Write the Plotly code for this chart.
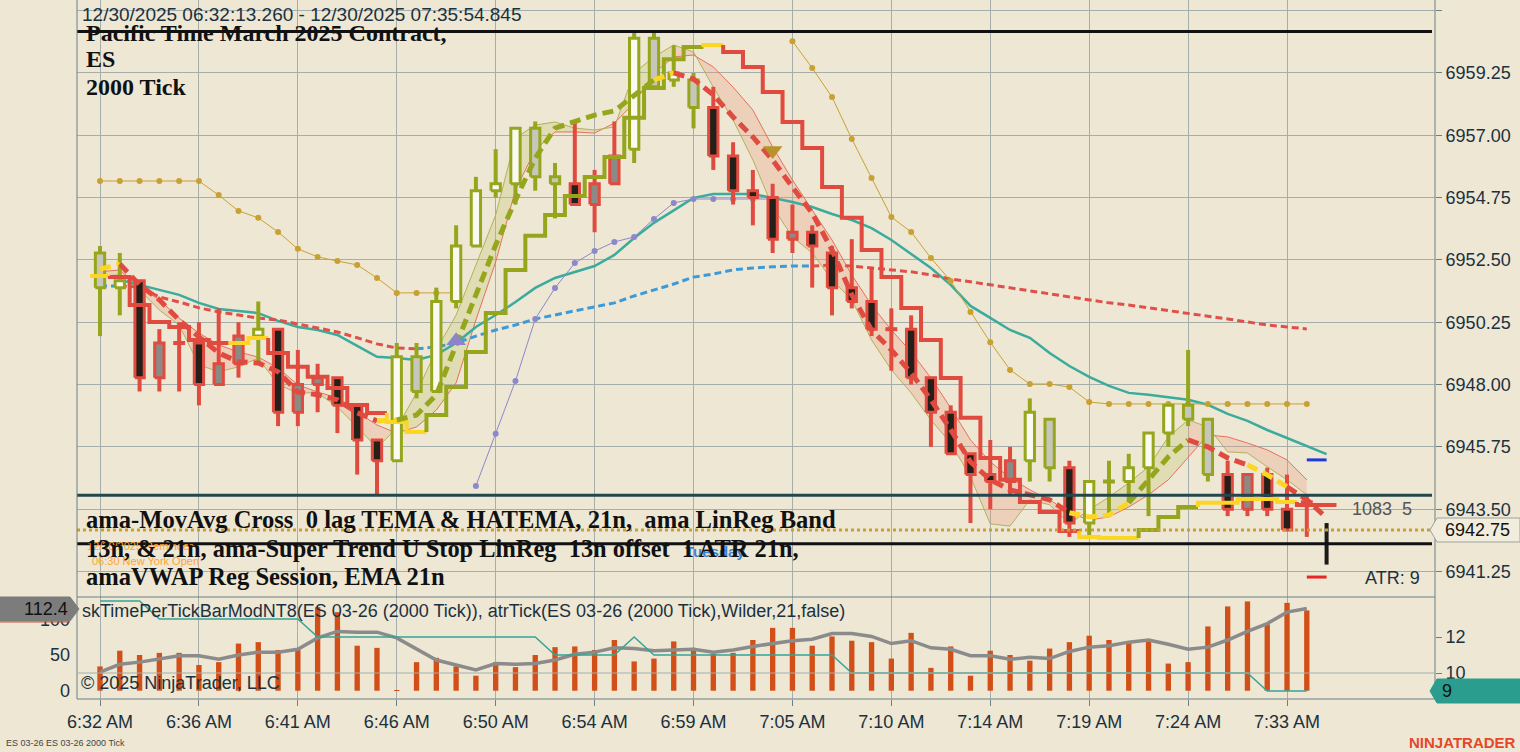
import plotly.graph_objects as go

# ------------------------------------------------------------------ data
time_tick_index = [0, 5, 10, 15, 20, 25, 30, 35, 40, 45, 50, 55, 60]
time_tick_labels = ["6:32 AM", "6:36 AM", "6:41 AM", "6:46 AM", "6:50 AM", "6:54 AM", "6:59 AM",
                    "7:05 AM", "7:10 AM", "7:14 AM", "7:19 AM", "7:24 AM", "7:33 AM"]
price_ticks = [6941.25, 6943.50, 6945.75, 6948.00, 6950.25, 6952.50, 6954.75, 6957.00, 6959.25, 6961.50]
price_tick_labels = ["6941.25", "6943.50", "6945.75", "6948.00", "6950.25", "6952.50", "6954.75",
                     "6957.00", "6959.25", ""]

opens = [6952.75, 6951.50, 6951.75, 6948.25, 6949.50, 6949.50, 6948.00, 6948.75, 6949.75, 6950.00,
         6947.00, 6948.00, 6948.25, 6947.25, 6946.00, 6945.25, 6949.00, 6947.75, 6951.00, 6953.00,
         6955.00, 6955.25, 6957.25, 6955.50, 6955.25, 6954.50, 6955.25, 6956.50, 6960.50, 6959.00,
         6959.00, 6958.00, 6956.25, 6955.00, 6954.75, 6953.25, 6953.50, 6952.75, 6951.50, 6951.00,
         6950.00, 6950.00, 6948.25, 6947.00, 6945.50, 6944.75, 6944.50, 6945.25, 6946.75, 6945.00,
         6943.00, 6944.50, 6944.50, 6945.00, 6946.25, 6947.25, 6946.75, 6944.75, 6943.50, 6944.75,
         6943.50, 6943.75, 6943.00]
highs = [6953.00, 6952.75, 6951.75, 6950.00, 6950.25, 6950.25, 6950.75, 6950.25, 6951.00, 6950.00,
         6949.25, 6948.75, 6948.25, 6947.25, 6946.00, 6949.50, 6949.50, 6951.50, 6953.75, 6955.50,
         6956.50, 6957.25, 6957.50, 6956.00, 6957.50, 6955.75, 6957.50, 6960.75, 6960.75, 6960.25,
         6959.25, 6958.75, 6956.75, 6955.75, 6955.25, 6954.50, 6953.75, 6953.00, 6953.25, 6952.25,
         6950.75, 6950.50, 6948.25, 6947.25, 6945.50, 6946.00, 6945.75, 6947.50, 6946.75, 6945.25,
         6944.50, 6945.25, 6945.50, 6946.25, 6947.25, 6949.25, 6946.75, 6945.25, 6944.75, 6945.00,
         6944.75, 6944.00, 6943.00]
lows = [6949.75, 6950.50, 6947.75, 6947.75, 6947.75, 6947.25, 6948.00, 6948.25, 6948.75, 6946.50,
        6946.50, 6947.00, 6946.25, 6944.75, 6944.00, 6945.25, 6947.50, 6947.75, 6950.75, 6953.00,
        6954.75, 6954.50, 6955.00, 6954.00, 6954.50, 6953.50, 6955.25, 6956.00, 6958.75, 6958.75,
        6957.25, 6955.75, 6954.50, 6953.75, 6952.75, 6952.75, 6951.50, 6950.50, 6950.75, 6949.75,
        6948.50, 6948.00, 6945.75, 6945.50, 6943.00, 6943.50, 6944.00, 6944.50, 6944.50, 6942.50,
        6942.50, 6943.25, 6943.75, 6943.25, 6945.75, 6946.50, 6944.50, 6943.25, 6943.25, 6943.25,
        6942.75, 6942.50, 6941.50]
closes = [6951.50, 6951.75, 6948.25, 6949.50, 6949.50, 6948.00, 6948.75, 6949.75, 6950.00, 6947.00,
          6948.00, 6948.25, 6947.25, 6946.00, 6945.25, 6949.00, 6947.75, 6951.00, 6953.00, 6955.00,
          6955.25, 6957.25, 6955.50, 6955.25, 6954.50, 6955.25, 6956.25, 6960.50, 6958.75, 6959.25,
          6958.00, 6956.25, 6955.00, 6954.75, 6953.25, 6953.50, 6953.00, 6951.50, 6951.00, 6950.00,
          6950.00, 6948.25, 6947.00, 6945.50, 6944.75, 6944.50, 6945.25, 6947.00, 6945.00, 6943.00,
          6944.50, 6944.50, 6945.00, 6946.25, 6947.25, 6946.75, 6944.75, 6943.50, 6944.75, 6943.50,
          6942.75, 6943.75, 6942.75]
# bar colouring trend: U = up (green), D = down (red), N = live bar
bar_trend = ("UU" + "DDDDDD" + "U" + "DDDDDD" + "UUUUUUUUU" + "DDD" + "UUUU"
             + "DDDDDDDDDDDDDDDD" + "UU" + "D" + "UUUUUUU" + "DDDDD" + "N")

ema21 = [None, 6951.78, 6951.60, 6951.42, 6951.24, 6950.95, 6950.73, 6950.66, 6950.58, 6950.30,
         6950.08, 6949.97, 6949.79, 6949.40, 6949.00, 6948.96, 6948.89, 6949.07, 6949.50, 6950.08,
         6950.51, 6950.98, 6951.49, 6951.85, 6952.07, 6952.28, 6952.68, 6953.29, 6953.84, 6954.30,
         6954.74, 6954.88, 6954.88, 6954.88, 6954.74, 6954.59, 6954.41, 6954.16, 6953.94, 6953.65,
         6953.22, 6952.72, 6952.21, 6951.60, 6950.84, 6950.41, 6949.97, 6949.69, 6949.14, 6948.67,
         6948.28, 6947.95, 6947.70, 6947.63, 6947.55, 6947.45, 6947.27, 6946.94, 6946.69, 6946.36,
         6946.07, 6945.78, 6945.49]

vwap = [6951.56, 6951.56, 6951.52, 6951.16, 6950.98, 6950.77, 6950.62, 6950.51, 6950.40, 6950.33,
        6950.19, 6950.04, 6949.90, 6949.69, 6949.47, 6949.32, 6949.29, 6949.36, 6949.50, 6949.75,
        6949.97, 6950.15, 6950.37, 6950.51, 6950.66, 6950.80, 6950.95, 6951.20, 6951.42, 6951.63,
        6951.88, 6951.99, 6952.14, 6952.21, 6952.25, 6952.28, 6952.28, 6952.32, 6952.28, 6952.21,
        6952.14, 6952.07, 6951.96, 6951.81, 6951.71, 6951.60, 6951.49, 6951.38, 6951.27, 6951.16,
        6951.06, 6950.95, 6950.87, 6950.77, 6950.69, 6950.58, 6950.48, 6950.37, 6950.26, 6950.15,
        6950.08, 6950.01]
vwap_state = "B" + "R" * 15 + "B" * 20 + "R" * 25   # per segment: B above, R below

tema = [6952.17, 6952.35, 6951.60, 6951.06, 6950.33, 6949.72, 6949.14, 6948.82, 6948.78, 6948.46,
        6947.73, 6947.63, 6947.45, 6946.98, 6946.69, 6946.72, 6946.90, 6947.63, 6949.43, 6951.24,
        6953.04, 6954.66, 6956.18, 6957.26, 6957.48, 6957.73, 6957.88, 6958.46, 6959.00, 6959.25,
        6959.03, 6958.46, 6957.66, 6956.94, 6956.11, 6955.13, 6954.19, 6952.86, 6951.24, 6949.97,
        6949.25, 6948.42, 6947.45, 6946.37, 6945.21, 6944.56, 6944.20, 6944.02, 6943.84, 6943.37,
        6943.22, 6943.29, 6943.73, 6944.56, 6945.39, 6946.00, 6945.75, 6945.35, 6945.10, 6944.74,
        6944.31, 6943.84, 6943.19]
tema_state = ("Y" + "R" * 13 + "Y" + "G" * 13 + "Y" + "R" * 20 + "YYY" + "GGG" + "RRR" + "YY" + "RR")

band_upper_line = [6952.07, 6952.14, 6951.52, 6951.06, 6950.40, 6949.86, 6949.43, 6949.18, 6948.99, 6948.60,
                   6947.99, 6947.73, 6947.52, 6947.01, 6946.54, 6946.25, 6946.47, 6947.08, 6948.06, 6950.33,
                   6952.43, 6955.03, 6956.47, 6957.12, 6957.12, 6957.08, 6957.44, 6958.17, 6959.25, 6959.83,
                   6959.90, 6959.47, 6958.74, 6957.91, 6956.58, 6955.39, 6954.30, 6953.22, 6951.96, 6950.87,
                   6949.97, 6949.18, 6948.24, 6947.16, 6946.00, 6945.21, 6944.63, 6944.20, 6943.84, 6943.37,
                   6943.11, 6943.22, 6943.58, 6944.02, 6944.56, 6945.39, 6946.18, 6946.11, 6945.89, 6945.64,
                   6945.28, 6944.56]
band_lower_line = [6951.92, 6951.96, 6951.42, 6950.69, 6950.15, 6948.71, 6948.46, 6948.64, 6948.96, 6947.99,
                   6947.70, 6947.70, 6947.19, 6946.47, 6945.71, 6946.43, 6947.70, 6949.25, 6950.51, 6952.32,
                   6954.12, 6956.90, 6957.37, 6957.48, 6957.26, 6957.19, 6957.30, 6959.25, 6959.83, 6960.26,
                   6960.01, 6958.74, 6957.55, 6956.11, 6954.41, 6953.33, 6952.75, 6951.78, 6951.06, 6949.61,
                   6948.53, 6947.70, 6946.72, 6945.89, 6944.67, 6942.97, 6942.89, 6943.84, 6943.66, 6942.97,
                   6943.48, 6943.94, 6944.45, 6945.03, 6946.11, 6946.72, 6946.47, 6945.57, 6945.53, 6945.03,
                   6944.56, 6944.02]
band_state = "D" * 15 + "U" * 14 + "D" * 20 + "U" * 6 + "D" * 6

stop_line = [6951.92, 6951.88, 6950.87, 6950.26, 6950.08, 6949.61, 6949.50, 6949.50, 6949.68, 6949.14,
             6948.64, 6948.28, 6947.88, 6947.26, 6946.97, 6946.65, 6946.29, 6946.90, 6947.91, 6949.18,
             6950.58, 6952.14, 6953.37, 6954.12, 6954.81, 6955.49, 6956.22, 6957.63, 6958.71, 6959.75,
             6960.19, 6960.26, 6960.01, 6959.47, 6958.56, 6957.48, 6956.54, 6955.13, 6954.02, 6952.86,
             6951.88, 6950.76, 6949.61, 6948.24, 6946.80, 6945.35, 6944.56, 6943.76, 6943.40, 6942.71,
             6942.50, 6942.46, 6942.46, 6942.75, 6943.22, 6943.58, 6943.73, 6943.73, 6943.87, 6943.87,
             6943.76, 6943.65, 6943.65]
stop_state = ("Y" + "R" * 6 + "YY" + "R" * 6 + "YY" + "G" * 14 + "Y" + "R" * 18 + "YYY" + "GGG"
              + "YYYYY" + "RR")

trail_gold = [6955.35, 6955.35, 6955.35, 6955.35, 6955.35, 6955.35, 6954.84, 6954.27, 6954.02, 6953.51,
              6952.90, 6952.61, 6952.46, 6952.32, 6951.85, 6951.31, 6951.31, 6951.31, 6951.31, None,
              None, None, None, None, None, None, None, None, None, None,
              None, None, None, None, None, 6960.40, 6959.43, 6958.38, 6956.87, 6955.46,
              6954.05, 6953.51, 6952.57, 6951.74, 6950.62, 6949.53, 6948.53, 6948.02, 6948.02, 6947.91,
              6947.37, 6947.30, 6947.30, 6947.30, 6947.30, 6947.30, 6947.30, 6947.30, 6947.30, 6947.30,
              6947.30, 6947.30, None]
trail_purple = [None, None, None, None, None, None, None, None, None, None,
                None, None, None, None, None, None, None, None, None, 6944.34,
                6946.22, 6948.13, 6950.37, 6951.49, 6952.39, 6952.82, 6953.15, 6953.33, 6953.98, 6954.56,
                6954.70, 6954.70, 6954.70, 6954.70, 6954.70, None, None, None, None, None,
                None, None, None, None, None, None, None, None, None, None,
                None, None, None, None, None, None, None, None, None, None,
                None, None, None]

signal_up_index, signal_up_price = [18], [6949.58]
signal_dn_index, signal_dn_price = [34], [6956.45]
session_high = 6960.75
session_low_line = 6942.25
pivot_line = 6944.00
last_price = 6942.75
proj_upper = 6945.28
proj_lower = 6941.05

time_per_tick = [34, 56, 50, 53, 53, 36, 40, 66, 68, 57, 57, 117, 110, 63, 60, 1, 40, 46, 34, 21,
                 40, 33, 50, 61, 62, 57, 71, 41, 45, 69, 60, 52, 53, 71, 88, 88, 63, 76, 70, 68,
                 45, 81, 32, 62, 21, 56, 50, 42, 59, 68, 77, 71, 68, 69, 38, 40, 90, 118, 125, 93,
                 123, 112.4]
time_per_tick_avg = [26, 37, 40, 44, 49, 49, 44, 50, 54, 54, 58, 74, 83, 82, 82, 74, 59, 43, 36, 29,
                     38, 37, 38, 43, 51, 54, 60, 59, 56, 57, 58, 54, 57, 62, 66, 70, 72, 80, 80, 76,
                     66, 70, 60, 58, 49, 49, 44, 47, 45, 55, 61, 63, 68, 71, 65, 58, 61, 71, 83, 94,
                     110, 115]
atr_ticks = [14, 14, 14, 13, 13, 13, 13, 13, 13, 13, 13, 12, 12, 12, 12, 12, 12, 12, 12, 12,
             12, 12, 12, 11, 11, 11, 11, 12, 11, 11, 11, 11, 11, 11, 11, 11, 11, 11, 10, 10,
             10, 10, 10, 10, 10, 10, 10, 10, 10, 10, 10, 10, 10, 10, 10, 10, 10, 10, 10, 9,
             9, 9]

assert len(bar_trend) == 63 and len(tema_state) == 62 and len(vwap_state) == 61
assert len(band_state) == 61 and len(stop_state) == 63

# ------------------------------------------------------------------ style
BG = "#ede7d4"
GRID = "#a6aeac"
AXIS = "#6d7e86"
TXT = "#1c3140"
SANS = "Liberation Sans"
SERIF = "Liberation Serif"
GREEN = "#95a61d"
RED = "#e04a3f"
YELLOW = "#fdd523"
TEAL = "#3aab9c"
W, H = 1520, 752
ML, MR, MT, MB = 77, 85, 0, 53
PW, PH = W - ML - MR, H - MT - MB
SPLIT = 102 / PH


def px(xp):
    return (xp - ML) / PW


def py(yp):
    return (H - MB - yp) / PH


def seg_runs(states):
    runs, start = [], 0
    for k in range(1, len(states) + 1):
        if k == len(states) or states[k] != states[start]:
            runs.append((states[start], start, k - 1))
            start = k
    return runs


idx = list(range(len(opens)))
fig = go.Figure()


def line(x, y, color, width, dash=None, yaxis="y", **kw):
    fig.add_trace(go.Scatter(x=x, y=y, mode="lines", yaxis=yaxis, hoverinfo="skip",
                             line=dict(color=color, width=width, dash=dash), **kw))


# band fills
band_fill = {"D": "rgba(233,150,120,0.28)", "U": "rgba(196,196,110,0.32)"}
for s, a, b in seg_runs(band_state):
    xs = idx[a:b + 2]
    line(xs, band_upper_line[a:b + 2], "rgba(0,0,0,0)", 0)
    line(xs, band_lower_line[a:b + 2], "rgba(0,0,0,0)", 0, fill="tonexty", fillcolor=band_fill[s])
line(idx[:62], band_upper_line, "#e8705e", 1)
line(idx[:62], band_lower_line, "#b4b05c", 1)

# EMA 21
line(idx, ema21, TEAL, 2.5)

# VWAP dashed
vcol = {"B": "#3d9ad8", "R": "#e0504a"}
for s, a, b in seg_runs(vwap_state):
    line(idx[a:b + 2], vwap[a:b + 2], vcol[s], 3, dash="7px,4px")

# trailing dotted lines
fig.add_trace(go.Scatter(x=idx, y=trail_gold, mode="lines+markers", hoverinfo="skip",
                         line=dict(color="#c9a133", width=1), marker=dict(color="#c9a133", size=6)))
fig.add_trace(go.Scatter(x=idx, y=trail_purple, mode="lines+markers", hoverinfo="skip",
                         line=dict(color="#8c88cc", width=1), marker=dict(color="#8c88cc", size=6)))

# candles: wicks
wick_col = {"U": GREEN, "D": RED, "N": "#1a1a1a"}
for t in "UDN":
    xs, ys = [], []
    for i in idx:
        if bar_trend[i] != t:
            continue
        xs += [i, i, None]
        ys += [lows[i], highs[i], None]
        if opens[i] == closes[i] and t != "N":
            xs += [i - 0.3, i + 0.3, None]
            ys += [opens[i], opens[i], None]
    line(xs, ys, wick_col[t], 4)

# candles: bodies
BW = 0.47
groups = {("U", True): ("#fbfaf0", GREEN), ("U", False): ("#c7c6bb", GREEN),
          ("D", True): ("#8b8a85", RED), ("D", False): ("#241f18", RED)}
for (t, up), (fc, lc) in groups.items():
    xs, ys = [], []
    for i in idx:
        if bar_trend[i] != t or opens[i] == closes[i]:
            continue
        if (closes[i] > opens[i]) != up:
            continue
        lo, hi = min(opens[i], closes[i]), max(opens[i], closes[i])
        xs += [i - BW / 2, i + BW / 2, i + BW / 2, i - BW / 2, i - BW / 2, None]
        ys += [lo, lo, hi, hi, lo, None]
    fig.add_trace(go.Scatter(x=xs, y=ys, mode="lines", fill="toself", fillcolor=fc,
                             line=dict(color=lc, width=3), hoverinfo="skip"))

# super trend stop (step)
scol = {"Y": YELLOW, "R": RED, "G": GREEN}
for s, a, b in seg_runs(stop_state):
    xs, ys = [], []
    if a > 0:
        xs.append(a - 0.5)
        ys.append(stop_line[a - 1])
    for k in range(a, b + 1):
        xs += [k - 0.5, k + 0.5]
        ys += [stop_line[k], stop_line[k]]
    line(xs, ys, scol[s], 4)

# TEMA thick dashed
for s, a, b in seg_runs(tema_state):
    line(idx[a:b + 2], tema[a:b + 2], scol[s], 5, dash="11px,6px")

# signals
fig.add_trace(go.Scatter(x=signal_up_index, y=signal_up_price, mode="markers", hoverinfo="skip",
                         marker=dict(symbol="triangle-up", size=17, color="#8a85c9")))
fig.add_trace(go.Scatter(x=signal_dn_index, y=signal_dn_price, mode="markers", hoverinfo="skip",
                         marker=dict(symbol="triangle-down", size=17, color="#b8922a")))

last = idx[-1]
line([last - 1, last], [proj_upper, proj_upper], "#1f3ad6", 3)
line([last - 1, last], [proj_lower, proj_lower], "#e8262a", 3)

# lower panel
fig.add_trace(go.Bar(x=idx[:62], y=time_per_tick, width=0.27, yaxis="y2", hoverinfo="skip",
                     marker=dict(color="#d24f18", line=dict(width=0))))
line(idx[:62], time_per_tick_avg, "#8b8b8b", 3.5, yaxis="y2")
line(idx[:62], atr_ticks, "#35a596", 1.5, yaxis="y3")

# ------------------------------------------------------------------ layout
tf = dict(family=SANS, size=18, color=TXT)
fig.update_layout(
    width=W, height=H, margin=dict(l=ML, r=MR, t=MT, b=MB),
    paper_bgcolor=BG, plot_bgcolor=BG, showlegend=False, barmode="overlay",
    xaxis=dict(domain=[0, 1], range=[-1.163, 67.48], anchor="y2", tickvals=time_tick_index,
               ticktext=time_tick_labels, showgrid=True, gridcolor=GRID, gridwidth=1,
               ticks="outside", ticklen=6, tickcolor=AXIS, tickfont=tf, zeroline=False,
               showline=False),
    yaxis=dict(domain=[SPLIT, 1], range=[6940.33, 6961.885], side="right", anchor="x",
               tickvals=price_ticks, ticktext=price_tick_labels, showgrid=True, gridcolor=GRID,
               ticks="outside", ticklen=6, tickcolor=AXIS, tickfont=tf, zeroline=False),
    yaxis2=dict(domain=[0, SPLIT], range=[-11.6, 131.2], side="left", anchor="x",
                tickvals=[0, 50, 100], showgrid=False, ticks="", ticklabelstandoff=6,
                tickfont=tf, zeroline=False),
    yaxis3=dict(overlaying="y2", side="right", anchor="x", range=[8.556, 14.222],
                tickvals=[10, 12], showgrid=False, ticks="outside", ticklen=6, tickcolor=AXIS,
                tickfont=tf, zeroline=False),
)

shapes = []
# horizontal price lines
for val, col, dash in [(session_high, "#111111", None), (pivot_line, "#24474d", None),
                       (last_price, "#c9a030", "dot"), (session_low_line, "#111111", None)]:
    shapes.append(dict(type="line", xref="paper", yref="y", x0=0, x1=px(1432), y0=val, y1=val,
                       line=dict(color=col, width=3, dash=dash)))
# panel borders
shapes += [
    dict(type="line", xref="paper", yref="paper", x0=0, x1=0, y0=0, y1=1, line=dict(color=AXIS, width=1)),
    dict(type="line", xref="paper", yref="paper", x0=1, x1=1, y0=0, y1=1, line=dict(color=AXIS, width=1)),
    dict(type="line", xref="paper", yref="paper", x0=0, x1=1, y0=0, y1=0, line=dict(color=AXIS, width=1)),
    dict(type="line", xref="paper", yref="paper", x0=0, x1=1, y0=SPLIT, y1=SPLIT, line=dict(color=AXIS, width=1)),
    dict(type="line", xref="paper", yref="y3", x0=0, x1=1, y0=10, y1=10, line=dict(color=GRID, width=1)),
]


def tag(points, fill, edge):
    path = "M " + " L ".join(f"{px(a):.5f},{py(b):.5f}" for a, b in points) + " Z"
    return dict(type="path", xref="paper", yref="paper", path=path, fillcolor=fill,
                line=dict(color=edge, width=1), layer="above")


shapes.append(tag([(1430, 530), (1437, 518), (1520, 518), (1520, 542), (1437, 542)], "#f2ecdd", "#9ea2a0"))
shapes.append(tag([(1430, 691), (1437, 679), (1520, 679), (1520, 703), (1437, 703)], "#2a9d8f", "#2a9d8f"))
shapes.append(tag([(0, 597), (70, 597), (79, 609), (70, 621), (0, 621)], "#7c7c7c", "#7c7c7c"))
shapes.append(dict(type="line", xref="paper", yref="paper", x0=px(0), x1=px(70), y0=py(622), y1=py(622),
                   line=dict(color="#c0573a", width=1)))
fig.update_layout(shapes=shapes)


def text(s, xp, yp, size=18, color=TXT, family=SANS, anchor="left"):
    fig.add_annotation(x=px(xp), y=py(yp), xref="paper", yref="paper", text=s, showarrow=False,
                       xanchor=anchor, yanchor="middle", font=dict(family=family, size=size, color=color))


NB = "\u00a0"
text("12/30/2025 06:32:13.260 - 12/30/2025 07:35:54.845", 80, 15, 19)
text("<b>Pacific Time March 2025 Contract,</b>", 84, 33, 24, "#111111", SERIF)
text("<b>ES</b>", 84, 59, 24, "#111111", SERIF)
text("<b>2000 Tick</b>", 84, 87, 24, "#111111", SERIF)
text("<b>Tuesday</b>", 683, 551, 15, "#3a84d6")
text("12/30/2025 Reminder", 85, 546, 11, "#ffa433")
text("06:30 New York Open", 90, 561, 11, "#ffa433")
text(f"<b>ama-MovAvg Cross {NB}0 lag TEMA &amp; HATEMA, 21n, {NB}ama LinReg Band</b>", 84, 519, 24.6, "#111111", SERIF)
text(f"<b>13n, &amp; 21n, ama-Super Trend U Stop LinReg {NB}13n offset {NB}1 ATR 21n,</b>", 84, 548, 24.4, "#111111", SERIF)
text("<b>amaVWAP Reg Session, EMA 21n</b>", 84, 576, 24.6, "#111111", SERIF)
text("skTimePerTickBarModNT8(ES 03-26 (2000 Tick)), atrTick(ES 03-26 (2000 Tick),Wilder,21,false)", 80, 611, 18)
text("© 2025 NinjaTrader, LLC", 79, 683, 18)
text(f"1083 {NB}5", 1350, 509, 18, "#555555")
text("ATR: 9", 1363, 578, 18)
text("6942.75", 1443, 530, 18, "#111111")
text("9", 1440, 691, 18, "#111111")
text("112.4", 70, 609, 18, "#111111", anchor="right")
text("ES 03-26 ES 03-26 2000 Tick", 4, 743, 9, "#444444")
text("<b>NINJATRADER</b>", 1518, 742, 15, "#e4472b", anchor="right")

fig.write_html("out.html", config={"displayModeBar": False},
               post_script="document.body.style.margin='0px';document.body.style.padding='0px';"
                           "document.body.style.overflow='hidden';")
